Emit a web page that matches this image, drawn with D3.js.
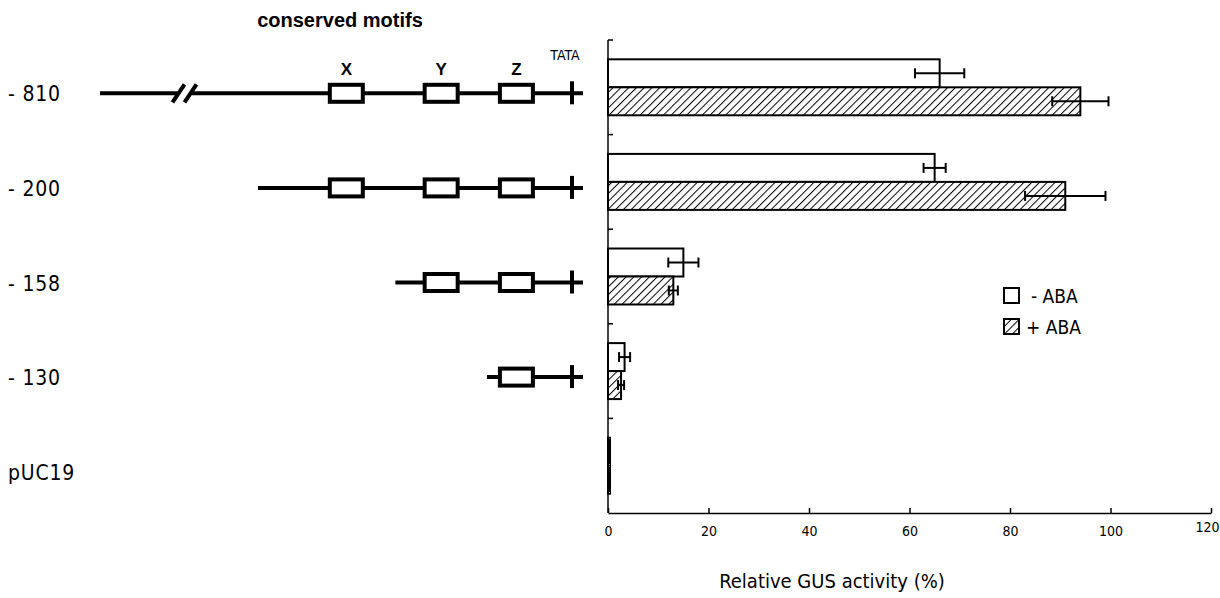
<!DOCTYPE html>
<html><head><meta charset="utf-8">
<script src="https://cdn.jsdelivr.net/npm/d3@7"></script>
<style>body{margin:0;background:#fff}</style>
</head><body><svg id="c" width="1220" height="598"></svg>
<script>
// ---- data ----
const categories = ["- 810", "- 200", "- 158", "- 130", "pUC19"];
const minusABA = [66, 65, 15, 3.3, 0.4];
const minusErr = [4.9, 2.2, 3, 1.1, 0];
const plusABA = [94, 91, 13, 2.6, 0.4];
const plusErr = [5.6, 8, 0.9, 0.6, 0];
const seriesNames = ["- ABA", "+ ABA"];
const xTicks = [0, 20, 40, 60, 80, 100, 120];
// promoter schematic (bp, schematic positions)
const constructStart = [-810, -200, -158, -130, null];
const motifNames = ["X", "Y", "Z"];
const motifCenter = [-173, -144, -121];
const motifsPresent = [["X", "Y", "Z"], ["X", "Y", "Z"], ["Y", "Z"], ["Z"], []];
const tataPos = -104;
const breakPos = -480;

// ---- layout ----
const svg = d3.select("#c");
const font = "'Liberation Sans Narrow','DejaVu Sans Condensed','Liberation Sans',Arial,sans-serif";
const x = d3.scaleLinear().domain([0, 120]).range([608, 1211]);
const y0 = d3.scaleBand().domain(categories).range([40, 513]).padding(0);
const y1 = d3.scaleBand().domain(seriesNames).range([0, y0.bandwidth()]).paddingOuter(0.69).paddingInner(0);
const sx = d3.scaleLinear().domain([-810, -200, tataPos]).range([100, 258, 572]);

// hatch pattern
const defs = svg.append("defs");
const pat = defs.append("pattern").attr("id", "hatch").attr("patternUnits", "userSpaceOnUse")
  .attr("width", 5.5).attr("height", 5.5).attr("patternTransform", "rotate(45)");
pat.append("rect").attr("width", 5.5).attr("height", 5.5).attr("fill", "#fff");
pat.append("line").attr("x1", 0).attr("y1", 0).attr("x2", 0).attr("y2", 5.5)
  .attr("stroke", "#000").attr("stroke-width", 2);

// ---- bars ----
const rows = categories.map((c, i) => ({c, i, vals: [
  {s: seriesNames[0], v: minusABA[i], e: minusErr[i]},
  {s: seriesNames[1], v: plusABA[i], e: plusErr[i]}
]}));
const g = svg.append("g");
rows.forEach(r => {
  r.vals.forEach((d, k) => {
    const yt = y0(r.c) + y1(d.s);
    g.append("rect").attr("x", x(0)).attr("y", yt)
      .attr("width", Math.max(0, x(d.v) - x(0))).attr("height", y1.bandwidth())
      .attr("fill", k === 0 ? "#fff" : "url(#hatch)")
      .attr("stroke", "#000").attr("stroke-width", 2);
    if (d.e > 0) {
      const yc = yt + y1.bandwidth() / 2;
      g.append("line").attr("x1", x(d.v - d.e)).attr("x2", x(d.v + d.e)).attr("y1", yc).attr("y2", yc)
        .attr("stroke", "#000").attr("stroke-width", 2);
      [d.v - d.e, d.v + d.e].forEach(v => g.append("line").attr("x1", x(v)).attr("x2", x(v))
        .attr("y1", yc - 5).attr("y2", yc + 5).attr("stroke", "#000").attr("stroke-width", 2));
    }
  });
});

// ---- axes ----
const xa = svg.append("g").attr("transform", `translate(0,${y0.range()[1]})`)
  .call(d3.axisBottom(x).tickValues(xTicks).tickSizeInner(-5).tickSizeOuter(0).tickPadding(13));
xa.select(".domain").attr("stroke-width", 1.5);
xa.selectAll(".tick line").attr("stroke-width", 1.5);
xa.selectAll("text").attr("font-family", font).attr("font-size", 14).attr("fill", "#000");
xa.selectAll(".tick").filter(d => d === 120).select("text").attr("dx", -4).attr("dy", "0.45em");

svg.append("line").attr("x1", x(0)).attr("x2", x(0)).attr("y1", y0.range()[0]).attr("y2", y0.range()[1])
  .attr("stroke", "#000").attr("stroke-width", 1.5);
categories.forEach(c => svg.append("line").attr("x1", x(0)).attr("x2", x(0) + 5)
  .attr("y1", y0(c)).attr("y2", y0(c)).attr("stroke", "#000").attr("stroke-width", 1.5));

svg.append("text").attr("x", 832).attr("y", 588).attr("text-anchor", "middle")
  .attr("font-family", font).attr("font-size", 20).text("Relative GUS activity (%)");

// ---- legend ----
seriesNames.forEach((s, k) => {
  const ly = 288 + k * 31;
  svg.append("rect").attr("x", 1004).attr("y", ly).attr("width", 15).attr("height", 15)
    .attr("fill", k === 0 ? "#fff" : "url(#hatch)").attr("stroke", "#000").attr("stroke-width", 2);
  svg.append("text").attr("x", k === 0 ? 1031 : 1026).attr("y", ly + 8).attr("dominant-baseline", "central")
    .attr("font-family", font).attr("font-size", 19).text(s);
});

// ---- row labels ----
categories.forEach(c => svg.append("text").attr("x", 8).attr("y", y0(c) + y0.bandwidth() / 2 + 7)
  .attr("dominant-baseline", "central").attr("font-family", font).attr("font-size", 21)
  .attr("letter-spacing", 0.8).text(c));

// ---- promoter schematic ----
const sch = svg.append("g").attr("stroke", "#000").attr("stroke-width", 4);
categories.forEach((c, i) => {
  if (constructStart[i] === null) return;
  const ly = y0(c) + y0.bandwidth() / 2 + 6;
  const xs = sx(constructStart[i]), xe = sx(tataPos) + 11;
  if (constructStart[i] < -200) {
    const bx = sx(breakPos);
    sch.append("line").attr("x1", xs).attr("x2", bx - 8).attr("y1", ly).attr("y2", ly);
    sch.append("line").attr("x1", bx + 6).attr("x2", xe).attr("y1", ly).attr("y2", ly);
    [bx - 7, bx + 5].forEach(px => sch.append("line").attr("x1", px - 6).attr("y1", ly + 9)
      .attr("x2", px + 6).attr("y2", ly - 9));
  } else {
    sch.append("line").attr("x1", xs).attr("x2", xe).attr("y1", ly).attr("y2", ly);
  }
  sch.append("line").attr("x1", sx(tataPos)).attr("x2", sx(tataPos)).attr("y1", ly - 12).attr("y2", ly + 11);
  motifsPresent[i].forEach(m => {
    const mc = sx(motifCenter[motifNames.indexOf(m)]);
    sch.append("rect").attr("x", mc - 16.5).attr("y", ly - 8.5).attr("width", 33).attr("height", 17).attr("fill", "#fff");
  });
  if (i === 0) {
    motifNames.forEach((m, k) => svg.append("text").attr("x", sx(motifCenter[k])).attr("y", ly - 24)
      .attr("text-anchor", "middle").attr("dominant-baseline", "central").attr("font-family", "'Liberation Sans',Arial,sans-serif")
      .attr("font-weight", "bold").attr("font-size", 17).text(m));
    svg.append("text").attr("x", sx(tataPos) - 7).attr("y", ly - 38).attr("text-anchor", "middle")
      .attr("dominant-baseline", "central").attr("font-family", font).attr("font-size", 14).text("TATA");
  }
});
svg.append("text").attr("x", 340).attr("y", 20).attr("text-anchor", "middle").attr("dominant-baseline", "central")
  .attr("font-family", "'Liberation Sans',Arial,sans-serif").attr("font-weight", "bold").attr("font-size", 20)
  .text("conserved motifs");
</script></body></html>
